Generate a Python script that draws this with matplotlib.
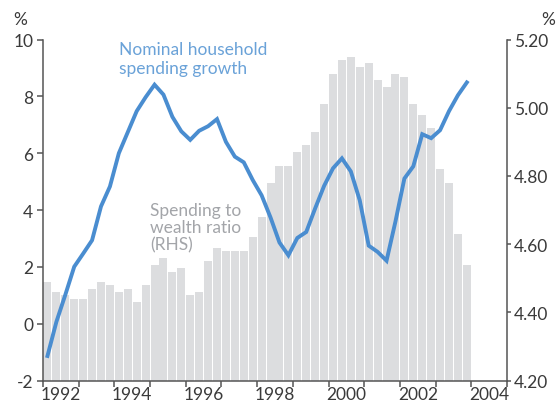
import numpy as np
import matplotlib
matplotlib.use("Agg")
import matplotlib.pyplot as plt
from matplotlib.ticker import FixedLocator, FuncFormatter

plt.rcParams['font.family'] = ['Lato', 'DejaVu Sans']

# quarterly data, 1992 Q1 to 2003 Q4
start_year = 1992
n_quarters = 48

# spending to wealth ratio (RHS, %)
ratio = [4.49, 4.46, 4.45, 4.44, 4.44, 4.47, 4.49, 4.48,
         4.46, 4.47, 4.43, 4.48, 4.54, 4.56, 4.52, 4.53,
         4.45, 4.46, 4.55, 4.59, 4.58, 4.58, 4.58, 4.62,
         4.68, 4.78, 4.83, 4.83, 4.87, 4.89, 4.93, 5.01,
         5.10, 5.14, 5.15, 5.12, 5.13, 5.08, 5.06, 5.10,
         5.09, 5.01, 4.98, 4.94, 4.82, 4.78, 4.63, 4.54]

# nominal household spending growth (LHS, %)
growth = [-1.13, 0.07, 1.02, 2.01, 2.47, 2.94, 4.13, 4.83,
          6.00, 6.74, 7.48, 7.97, 8.41, 8.06, 7.28, 6.77,
          6.47, 6.79, 6.95, 7.20, 6.40, 5.88, 5.68, 5.06,
          4.52, 3.74, 2.86, 2.41, 3.02, 3.23, 4.06, 4.85,
          5.47, 5.82, 5.36, 4.34, 2.75, 2.53, 2.22, 3.60,
          5.11, 5.54, 6.67, 6.53, 6.81, 7.48, 8.04, 8.49]

year_labels = ['1992', '1994', '1996', '1998', '2000', '2002', '2004']
left_ticks = [-2, 0, 2, 4, 6, 8, 10]
right_ticks = [4.2, 4.4, 4.6, 4.8, 5.0, 5.2]

x = start_year + (np.arange(n_quarters) + 0.5) / 4

axis_col = '#555555'
text_col = '#3a3a3a'
bar_col = '#dcdddf'
line_col = '#4a8dd0'

fig = plt.figure(figsize=(5.58, 4.06), dpi=100)
ax = fig.add_axes([43 / 558, 1 - 381.7 / 406, 464 / 558, 341.2 / 406])
ax2 = ax.twinx()

ax2.bar(x, np.array(ratio) - 4.2, bottom=4.2, width=0.225, color=bar_col, linewidth=0)
ax.plot(x, growth, color=line_col, lw=2.8, solid_joinstyle='miter')

# line drawn above the bars
ax.set_zorder(ax2.get_zorder() + 1)
ax.patch.set_visible(False)

ax.set_xlim(1992, 2005)
ax.set_ylim(-2, 10)
ax2.set_ylim(4.2, 5.2)

ax.set_yticks(left_ticks)
ax.set_yticklabels([str(t) for t in left_ticks])
ax2.set_yticks(right_ticks)
ax2.yaxis.set_major_formatter(FuncFormatter(lambda v, p: f'{v:.2f}'))

ax.xaxis.set_major_locator(FixedLocator(np.arange(1992, 2006)))
ax.xaxis.set_minor_locator(FixedLocator([int(y) + 0.5 for y in year_labels]))
ax.set_xticklabels([], minor=False)
ax.set_xticklabels(year_labels, minor=True)

for a in (ax, ax2):
    a.spines['top'].set_visible(False)
    for s in a.spines.values():
        s.set_color(axis_col)
        s.set_linewidth(1.1)
ax.spines['right'].set_visible(False)
ax2.spines['left'].set_visible(False)
ax2.spines['bottom'].set_visible(False)

ax.tick_params(axis='y', which='major', direction='out', length=4, width=1.1,
               color=axis_col, labelcolor=text_col, labelsize=12.5, pad=3)
ax2.tick_params(axis='y', which='major', direction='out', length=3, width=1.1,
                color=axis_col, labelcolor=text_col, labelsize=12.5, pad=2)
ax.tick_params(axis='x', which='major', direction='out', length=4, width=1.1,
               color=axis_col)
ax.tick_params(axis='x', which='minor', length=0, labelcolor=text_col,
               labelsize=12.5, pad=4)

fig.text(13 / 558, 1 - 12 / 406, '%', ha='left', va='top', fontsize=12.5, color=text_col)
fig.text(555 / 558, 1 - 12 / 406, '%', ha='right', va='top', fontsize=12.5, color=text_col)

ax.text(1994.13, 9.95, 'Nominal household\nspending growth', ha='left', va='top',
        fontsize=12.5, color='#6aa2d8', linespacing=1.2)
ax.text(1995.0, 4.3, 'Spending to\nwealth ratio\n(RHS)', ha='left', va='top',
        fontsize=12.5, color='#a3a5a9', linespacing=1.1)

fig.savefig('out.png', dpi=100)
